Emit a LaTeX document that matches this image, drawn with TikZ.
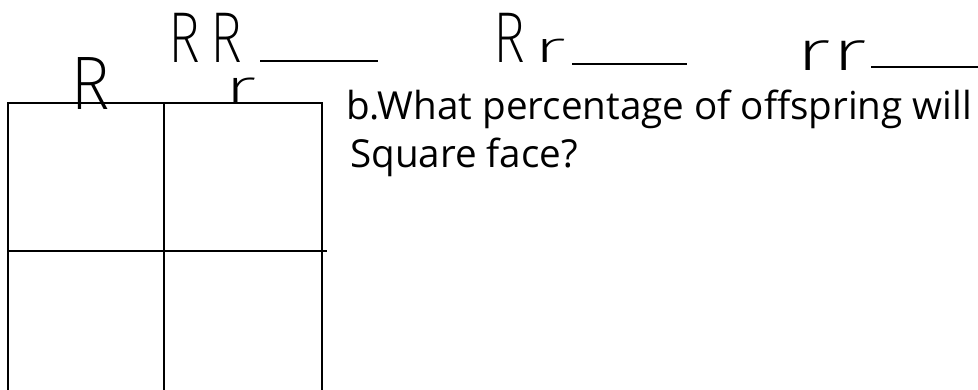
\documentclass[tikz,border=0pt]{standalone}
\usepackage{fontspec}
\usepackage{graphicx}
\newfontfamily\printfont{Open Sans}
\newfontfamily\handfont{Fira Sans ExtraLight}
\newcommand\bigR{\scalebox{0.76}[1]{\fontsize{72}{72}\selectfont R}}
\newcommand\smallr[2]{\scalebox{#2}[1]{\fontsize{#1}{#1}\selectfont r}}
\begin{document}
\begin{tikzpicture}[x=1pt,y=-1pt,
  gridline/.style={line width=2.4pt, black},
  blankline/.style={line width=1.8pt, black},
  hand/.style={inner sep=0pt, anchor=base west, font=\handfont, text depth=0pt},
  printed/.style={inner sep=0pt, anchor=base west, font=\printfont\fontsize{38.6}{46}\selectfont},
]
\useasboundingbox (0,0) rectangle (978,390);
% Punnett square
\coordinate (gTL) at (8,103);
\coordinate (gTM) at (164,103);
\coordinate (gTR) at (322,103);
\coordinate (gBL) at (8,390);
\coordinate (gBM) at (164,390);
\coordinate (gBR) at (322,390);
\coordinate (gML) at (8,251);
\coordinate (gMR) at (327,251);
\draw[gridline] (gBL) -- (gTL) -- (gTR) -- (gBR);
\draw[gridline] (gTM) -- (gBM);
\draw[gridline] (gML) -- (gMR);
% handwritten labels
\node[hand] (lblR) at (70,110) {\scalebox{0.9}[1]{\fontsize{76}{76}\selectfont R}};
\node[hand, text height=22pt] (lblr) at (224,104) {\smallr{48}{1.8}};
\node[hand] (gRR) at (168,63) {\bigR\kern10pt\bigR};
\node[hand] (gRr) at (493,63) {\bigR\kern8pt\smallr{44}{2.0}};
\node[hand] (grr) at (795,71) {\smallr{56}{1.7}\kern1pt\smallr{56}{1.7}};
% blanks
\coordinate (bRRa) at (260,61);
\coordinate (bRRb) at (378,61);
\coordinate (bRra) at (572,64);
\coordinate (bRrb) at (687,64);
\coordinate (brra) at (871,67);
\coordinate (brrb) at (978,67);
\draw[blankline] (bRRa) -- (bRRb);
\draw[blankline] (bRra) -- (bRrb);
\draw[blankline] (brra) -- (brrb);
% question
\node[printed] (q1) at (346,120) {b.What percentage of offspring will};
\node[printed] (q2) at (350,168) {Square face?};
\end{tikzpicture}
\end{document}
